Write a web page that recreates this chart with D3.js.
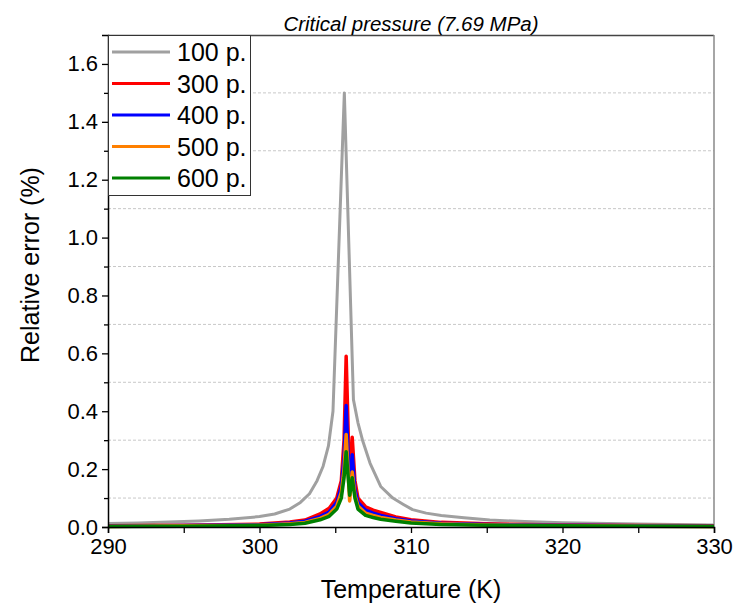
<!DOCTYPE html>
<html>
<head>
<meta charset="utf-8">
<script src="https://cdn.jsdelivr.net/npm/d3@7"></script>
<style>
    body { margin: 0; background: #fff; }
    svg text { font-family: 'Liberation Sans', Arial, sans-serif; fill: #000; }
</style>
</head>
<body>
<div id="chart"></div>
<script>
// Data.
const seriesNames = ['100 p.', '300 p.', '400 p.', '500 p.', '600 p.']
const seriesColors = ['#a0a0a0', '#ff0000', '#0000ff', '#ff8000', '#008000']

const greyTemps = [290, 292, 294, 296, 298, 300, 301, 302, 302.7, 303.3, 303.8, 304.2, 304.55, 304.85, 305.6,
    306.2, 306.5, 306.8, 307.3, 308, 308.8, 309.5, 310.1, 311, 312, 313.5, 315.2, 317.5, 320, 325, 330]
const err100 = [0.012, 0.014, 0.017, 0.021, 0.027, 0.036, 0.045, 0.062, 0.085, 0.115, 0.16, 0.21, 0.28, 0.40, 1.50,
    0.44, 0.36, 0.30, 0.22, 0.14, 0.10, 0.078, 0.06, 0.048, 0.04, 0.032, 0.024, 0.019, 0.015, 0.01, 0.007]

const temps = [290, 295, 300, 302, 303, 304, 304.6, 305.1, 305.4, 305.58, 305.72, 305.95, 306.12, 306.3, 306.5,
    307, 307.5, 308, 309, 310, 312, 315, 320, 325, 330]
const err300 = [0.004, 0.006, 0.010, 0.017, 0.024, 0.045, 0.065, 0.10, 0.16, 0.30, 0.59, 0.14, 0.31, 0.16, 0.10,
    0.07, 0.058, 0.05, 0.035, 0.025, 0.016, 0.011, 0.007, 0.005, 0.004]
const err400 = [0.003, 0.005, 0.008, 0.014, 0.02, 0.036, 0.052, 0.085, 0.14, 0.24, 0.42, 0.12, 0.25, 0.13, 0.085,
    0.058, 0.048, 0.04, 0.029, 0.021, 0.013, 0.009, 0.006, 0.004, 0.003]
const err500 = [0.002, 0.004, 0.006, 0.011, 0.016, 0.03, 0.044, 0.072, 0.12, 0.2, 0.32, 0.09, 0.19, 0.11, 0.072,
    0.048, 0.04, 0.033, 0.024, 0.017, 0.011, 0.007, 0.005, 0.003, 0.002]
const err600 = [0.002, 0.003, 0.005, 0.009, 0.013, 0.025, 0.037, 0.062, 0.10, 0.17, 0.26, 0.11, 0.17, 0.1, 0.062,
    0.04, 0.033, 0.027, 0.02, 0.014, 0.009, 0.006, 0.004, 0.003, 0.002]

const xTicks = [290, 300, 310, 320, 330]
const yTicks = [0.0, 0.2, 0.4, 0.6, 0.8, 1.0, 1.2, 1.4, 1.6]

class ErrorChart {
    constructor(_config) {
        this.config = {
            parentElement: _config.parentElement,
            containerWidth: _config.containerWidth,
            containerHeight: _config.containerHeight,
            margin: {top: 35, right: 20, bottom: 78, left: 108}
        }
        this.initVis()
    }

    initVis() {
        let vis = this

        vis.width = vis.config.containerWidth - vis.config.margin.left - vis.config.margin.right
        vis.height = vis.config.containerHeight - vis.config.margin.top - vis.config.margin.bottom

        vis.svg = d3.select(vis.config.parentElement)
            .append('svg')
            .attr('width', vis.config.containerWidth)
            .attr('height', vis.config.containerHeight)

        vis.chart = vis.svg.append('g')
            .attr('transform', `translate(${vis.config.margin.left}, ${vis.config.margin.top})`)

        vis.xScale = d3.scaleLinear().domain([290, 330]).range([0, vis.width])
        vis.yScale = d3.scaleLinear().domain([0, 1.7]).range([vis.height, 0])

        vis.renderVis()
        vis.renderLegend()
    }

    renderVis() {
        let vis = this

        // Dashed gridlines sit on the odd tenths.
        const gridVals = d3.range(1, 17, 2).map(d => d / 10)
        vis.chart.selectAll('.grid')
            .data(gridVals)
            .join('line')
            .attr('class', 'grid')
            .attr('x1', 0).attr('x2', vis.width)
            .attr('y1', d => vis.yScale(d)).attr('y2', d => vis.yScale(d))
            .attr('stroke', '#c8c8c8')
            .attr('stroke-width', 1)
            .attr('stroke-dasharray', '3,2')

        // Frame top and right.
        vis.chart.append('line')
            .attr('x1', 0).attr('x2', vis.width).attr('y1', 0.5).attr('y2', 0.5)
            .attr('stroke', '#444').attr('stroke-width', 1.3)
        vis.chart.append('line')
            .attr('x1', vis.width).attr('x2', vis.width).attr('y1', 0).attr('y2', vis.height)
            .attr('stroke', '#888').attr('stroke-width', 1.5)

        const line = d3.line()
            .x(d => vis.xScale(d[0]))
            .y(d => vis.yScale(d[1]))

        const series = [
            {name: seriesNames[0], color: seriesColors[0], pts: d3.zip(greyTemps, err100), w: 3},
            {name: seriesNames[1], color: seriesColors[1], pts: d3.zip(temps, err300), w: 3.5},
            {name: seriesNames[2], color: seriesColors[2], pts: d3.zip(temps, err400), w: 3.5},
            {name: seriesNames[3], color: seriesColors[3], pts: d3.zip(temps, err500), w: 3.5},
            {name: seriesNames[4], color: seriesColors[4], pts: d3.zip(temps, err600), w: 3.5}
        ]

        vis.chart.selectAll('.series')
            .data(series)
            .join('path')
            .attr('class', 'series')
            .attr('d', d => line(d.pts))
            .attr('fill', 'none')
            .attr('stroke', d => d.color)
            .attr('stroke-width', d => d.w)
            .attr('stroke-linejoin', 'round')

        // Axes
        const xAxis = d3.axisBottom(vis.xScale).tickValues(xTicks).tickSize(6).tickPadding(5)
            .tickFormat(d3.format('d'))
        const xMinor = d3.axisBottom(vis.xScale).tickValues([295, 305, 315, 325]).tickSize(6).tickFormat('')
        const yAxis = d3.axisLeft(vis.yScale).tickValues(yTicks).tickSize(6).tickPadding(4)
            .tickFormat(d3.format('.1f'))
        const yMinor = d3.axisLeft(vis.yScale).tickValues(d3.range(1, 17, 2).map(d => d / 10)).tickSize(4).tickFormat('')

        const gx = vis.chart.append('g').attr('transform', `translate(0, ${vis.height})`).call(xAxis)
        vis.chart.append('g').attr('transform', `translate(0, ${vis.height})`).call(xMinor)
            .select('.domain').remove()
        const gy = vis.chart.append('g').call(yAxis)
        vis.chart.append('g').call(yMinor).select('.domain').remove()

        vis.svg.selectAll('.domain').attr('stroke', '#000').attr('stroke-width', 1.5)
        vis.svg.selectAll('.tick line').attr('stroke', '#000').attr('stroke-width', 1.3)
        gx.selectAll('text').attr('font-size', 22).attr('font-family', "'Liberation Sans', Arial, sans-serif")
        gy.selectAll('text').attr('font-size', 22).attr('font-family', "'Liberation Sans', Arial, sans-serif")

        // Titles
        vis.svg.append('text')
            .attr('x', vis.config.margin.left + vis.width / 2)
            .attr('y', 31)
            .attr('text-anchor', 'middle')
            .attr('font-size', 20.5)
            .attr('font-style', 'italic')
            .text('Critical pressure (7.69 MPa)')

        vis.svg.append('text')
            .attr('x', vis.config.margin.left + vis.width / 2)
            .attr('y', 598)
            .attr('text-anchor', 'middle')
            .attr('font-size', 25)
            .text('Temperature (K)')

        vis.svg.append('text')
            .attr('transform', `translate(39, 265) rotate(-90)`)
            .attr('text-anchor', 'middle')
            .attr('font-size', 25)
            .text('Relative error (%)')

        vis.series = series
    }

    renderLegend() {
        let vis = this

        const legend = vis.chart.append('g')

        legend.append('rect')
            .attr('x', 0.5).attr('y', 0.5)
            .attr('width', 142).attr('height', 160)
            .attr('fill', '#fff')
            .attr('stroke', '#333')
            .attr('stroke-width', 1)

        const rows = legend.selectAll('.legend-row')
            .data(vis.series)
            .join('g')
            .attr('class', 'legend-row')
            .attr('transform', (d, i) => `translate(0, ${17 + i * 31.5})`)

        rows.append('line')
            .attr('x1', 4).attr('x2', 62)
            .attr('stroke', d => d.color)
            .attr('stroke-width', 3)

        rows.append('text')
            .attr('x', 69)
            .attr('y', 9)
            .attr('font-size', 25)
            .text(d => d.name)
    }
}

new ErrorChart({parentElement: '#chart', containerWidth: 734, containerHeight: 605})
</script>
</body>
</html>
